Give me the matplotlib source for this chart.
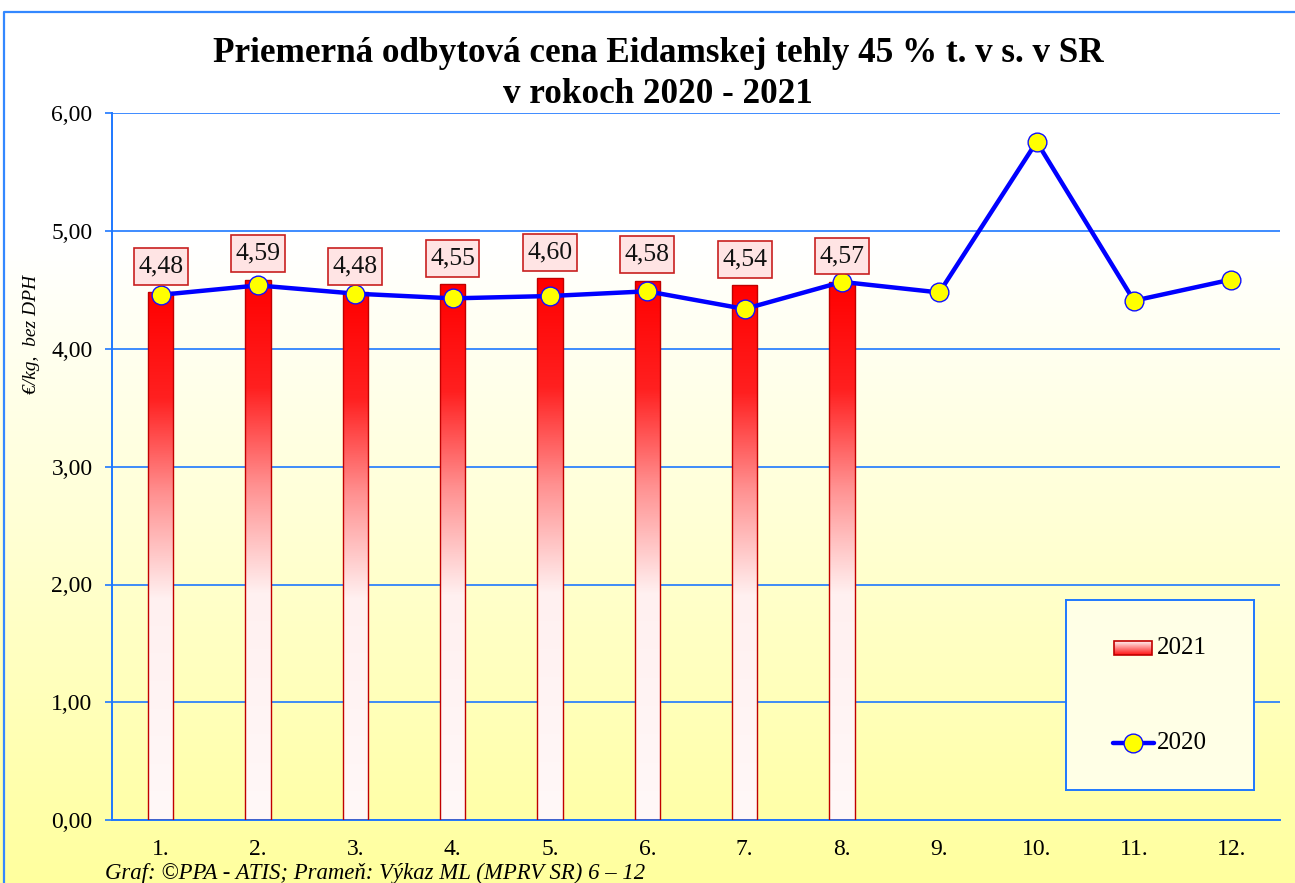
import numpy as np
import matplotlib
matplotlib.use("Agg")
import matplotlib.pyplot as plt
from matplotlib.colors import LinearSegmentedColormap
from matplotlib.patches import Rectangle

# ---- data ----
months = ["1.", "2.", "3.", "4.", "5.", "6.", "7.", "8.", "9.", "10.", "11.", "12."]
values_2021 = [4.48, 4.59, 4.48, 4.55, 4.60, 4.58, 4.54, 4.57]
values_2020 = [4.46, 4.54, 4.47, 4.43, 4.45, 4.49, 4.34, 4.57, 4.48, 5.76, 4.41, 4.59]
yticks = [0, 1, 2, 3, 4, 5, 6]
title1 = "Priemerná odbytová cena Eidamskej tehly 45 % t. v s. v SR"
title2 = "v rokoch 2020 - 2021"
ylabel = "€/kg,  bez DPH"
footer = "Graf: ©PPA - ATIS; Prameň: Výkaz ML (MPRV SR) 6 – 12"

W, H = 1295, 883
plt.rcParams['font.family'] = ['Liberation Serif', 'DejaVu Serif']
fig = plt.figure(figsize=(W / 100, H / 100), dpi=100)

# background gradient
bg = fig.add_axes([0, 0, 1, 1], zorder=-10)
ypix = np.linspace(0, 1, 400)  # 0 top, 1 bottom
t = np.clip((ypix - 0.28) / (1 - 0.28), 0, 1)
top = np.array([1.0, 1.0, 1.0])
bot = np.array([1.0, 1.0, 0.62])
img = top[None, :] * (1 - t[:, None]) + bot[None, :] * t[:, None]
bg.imshow(img[:, None, :], extent=[0, 1, 0, 1], aspect='auto', origin='upper')
bg.set_xlim(0, 1); bg.set_ylim(0, 1)
bg.axis('off')
# outer border
bg.plot([3.5 / W, 3.5 / W, 1.01], [-0.01, 1 - 12 / H, 1 - 12 / H], color='#3388FF', lw=1.6,
        clip_on=False)

grid_c = '#1E78FF'
ax = fig.add_axes([112 / W, 1 - 820 / H, (1280 - 112) / W, (820 - 113.5) / H])
ax.set_facecolor('none')
x = np.arange(len(months))

bar_cmap = LinearSegmentedColormap.from_list(
    'barg', [(0, '#FFF8F8'), (0.42, '#FFF0F0'), (0.62, '#FF9090'), (0.8, '#FF2020'), (1, '#FF0000')])
grad = np.linspace(0, 1, 256)[:, None]
bw = 0.26
bars = ax.bar(x[:len(values_2021)], values_2021, width=bw, facecolor='none',
              edgecolor='#C00000', lw=1.0, zorder=3)
for b in bars:
    x0 = b.get_x()
    im = ax.imshow(grad, extent=[x0, x0 + b.get_width(), 0, b.get_height()], origin='lower',
                   aspect='auto', cmap=bar_cmap, zorder=2.5)
    im.set_clip_path(b)

for i, v in enumerate(values_2021):
    ax.annotate(f"{v:.2f}".replace('.', ','), (x[i], v), xytext=(0, 10.7), textcoords='offset points',
                ha='center', va='bottom', fontsize=18.5, color='#111111', zorder=6,
                bbox=dict(boxstyle='square,pad=0.17', facecolor='#FFE4E4', edgecolor='#C82020', lw=1.2,
                          mutation_aspect=1.7))

ax.plot(x, values_2020, color='#0000FF', lw=3.2, marker='o', markersize=13.5,
        markerfacecolor='#FFFF00', markeredgecolor='#1010FF', markeredgewidth=1.0, zorder=5)

ax.set_xlim(-0.5, len(months) - 0.5)
ax.set_ylim(0, 6)
ax.set_yticks(yticks)
ax.set_yticklabels([f"{v:.2f}".replace('.', ',') for v in yticks], fontsize=17)
ax.set_xticks(x)
ax.set_xticklabels(months, fontsize=17)
ax.tick_params(axis='x', length=0, pad=13.5)
ax.tick_params(axis='y', length=5, width=1.2, color=grid_c, pad=9)
ax.yaxis.grid(True, color=grid_c, lw=1.2, zorder=1)
ax.set_axisbelow(True)
for s in ['top', 'right']:
    ax.spines[s].set_visible(False)
for s in ['left', 'bottom']:
    ax.spines[s].set_color(grid_c)
    ax.spines[s].set_linewidth(1.4)

# titles & texts
fig.text(658 / W, 1 - 62 / H, title1, ha='center', va='baseline', fontsize=25.3, fontweight='bold')
fig.text(658 / W, 1 - 103 / H, title2, ha='center', va='baseline', fontsize=25.3, fontweight='bold')
fig.text(32 / W, 1 - 334 / H, ylabel, rotation=90, ha='center', va='center', fontsize=14,
         fontstyle='italic')
fig.text(105 / W, 1 - 879 / H, footer, ha='left', va='baseline', fontsize=16.4, fontstyle='italic')

# legend
lg = fig.add_axes([1066 / W, 1 - 790 / H, (1254 - 1066) / W, (790 - 600) / H])
lg.set_facecolor('#FFFFE6')
lg.set_xlim(1066, 1254); lg.set_ylim(790, 600)
lg.set_xticks([]); lg.set_yticks([])
for s in lg.spines.values():
    s.set_color(grid_c); s.set_linewidth(1.4)
rect = Rectangle((1114, 641), 38, 14, facecolor='none', edgecolor='#C00000', lw=1.2, zorder=3)
lg.add_patch(rect)
lim = lg.imshow(grad[::-1], extent=[1114, 1152, 655, 641], origin='lower', aspect='auto',
                cmap=LinearSegmentedColormap.from_list('lg', ['#FFF4F4', '#FF1010']), zorder=2)
lim.set_clip_path(rect)
lg.set_xlim(1066, 1254); lg.set_ylim(790, 600)
lg.text(1157, 648, "2021", ha='left', va='center', fontsize=18)
lg.plot([1113, 1154], [743, 743], color='#0000FF', lw=3.2, solid_capstyle='round')
lg.plot([1133], [743], marker='o', markersize=13.5, markerfacecolor='#FFFF00',
        markeredgecolor='#1010FF', markeredgewidth=1.0)
lg.text(1157, 743, "2020", ha='left', va='center', fontsize=18)

fig.savefig("out.png", dpi=100)
